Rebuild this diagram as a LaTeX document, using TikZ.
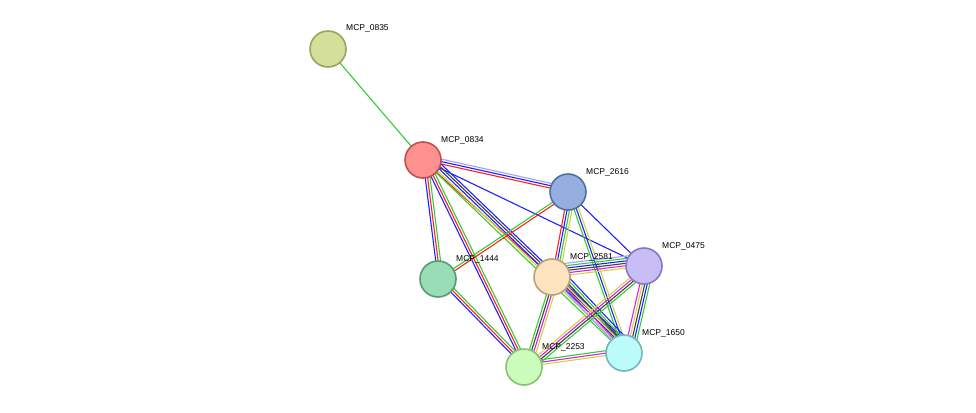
\documentclass[tikz,border=0pt]{standalone}
\usepackage{fontspec}
\setmainfont{Liberation Sans}
\usetikzlibrary{calc}
\definecolor{sgreen}{HTML}{33CC33}
\definecolor{sred}{HTML}{FF2020}
\definecolor{sblue}{HTML}{2020FF}
\definecolor{slblue}{HTML}{A0A0FF}
\definecolor{syel}{HTML}{C8D840}
\definecolor{smag}{HTML}{E020E0}
\definecolor{sblack}{HTML}{404040}
\tikzset{
    protein/.style={
        circle,
        line width=1.6pt,
        minimum size=36pt,
        inner sep=0pt
    },
    plabel/.style={
        anchor=base west,
        font=\fontsize{8.5pt}{10pt}\selectfont,
        inner sep=0pt
    },
    evidence/.style={
        line width=1.1pt
    }
}
% multi-coloured edge: \edge{from}{to}{colour list}
\newcommand{\edge}[3]{%
  \foreach \c [count=\i] in {#3} {
    \pgfmathsetmacro{\off}{2.4*(\i-1)}
    \draw[evidence, draw=\c] ($(#1)!\off pt!90:(#2)$) -- ($(#2)!\off pt!-90:(#1)$);
  }
}
\begin{document}
\begin{tikzpicture}[x=1pt, y=-1pt]
\useasboundingbox (0,0) rectangle (976,412);

% node positions
\coordinate (p0835) at (328,49);
\coordinate (p0834) at (423,160);
\coordinate (p2616) at (568,192);
\coordinate (p0475) at (644,266);
\coordinate (p1444) at (438,279);
\coordinate (p2581) at (552,277);
\coordinate (p1650) at (624,353);
\coordinate (p2253) at (524,367);

% edges
\edge{p0835}{p0834}{sgreen}
\edge{p0834}{p2616}{sred,sblue,slblue}
\edge{p0834}{p0475}{sblue}
\edge{p0834}{p1444}{sblue,sred,sgreen}
\edge{p0834}{p2253}{sblue,sred,sgreen}
\edge{p0834}{p2581}{sred}
\edge{p0834}{p1650}{sgreen,syel,sblue,sblack,sblue}
\edge{p2616}{p1444}{sgreen,sred}
\edge{p2616}{p2581}{sred,sblue,sgreen,syel}
\edge{p2616}{p1650}{sgreen,sblue,syel}
\edge{p2616}{p0475}{sblue}
\edge{p2581}{p0475}{syel,smag,sblack,sblue,sgreen,slblue}
\edge{p2581}{p1650}{slblue,smag,syel,sblack,sgreen,sblue}
\edge{p2581}{p2253}{sgreen,sblack,smag,syel}
\edge{p1444}{p2253}{sblue,sred,sgreen}
\edge{p0475}{p2253}{syel,smag,sblack,sgreen}
\edge{p0475}{p1650}{smag,syel,sblack,sblue,sgreen}
\edge{p2253}{p1650}{syel,smag,sgreen}

% proteins
\foreach \n/\f/\b in {0835/D4DF9A/9AA55A, 0834/FF9090/C05050, 2616/95B0E0/5070A0,
  0475/C8BDF5/8878C0, 1444/98DDB5/5A9A70, 2581/FDE3C0/B8A078,
  1650/BDFBFB/70B8B8, 2253/CCFCBC/88C078} {
  \definecolor{fc}{HTML}{\f}
  \definecolor{bc}{HTML}{\b}
  \node[protein, fill=fc, draw=bc] (n\n) at (p\n) {};
  \node[plabel] (l\n) at ($(p\n)+(18,-18)$) {MCP\_\n};
}

\end{tikzpicture}
\end{document}
